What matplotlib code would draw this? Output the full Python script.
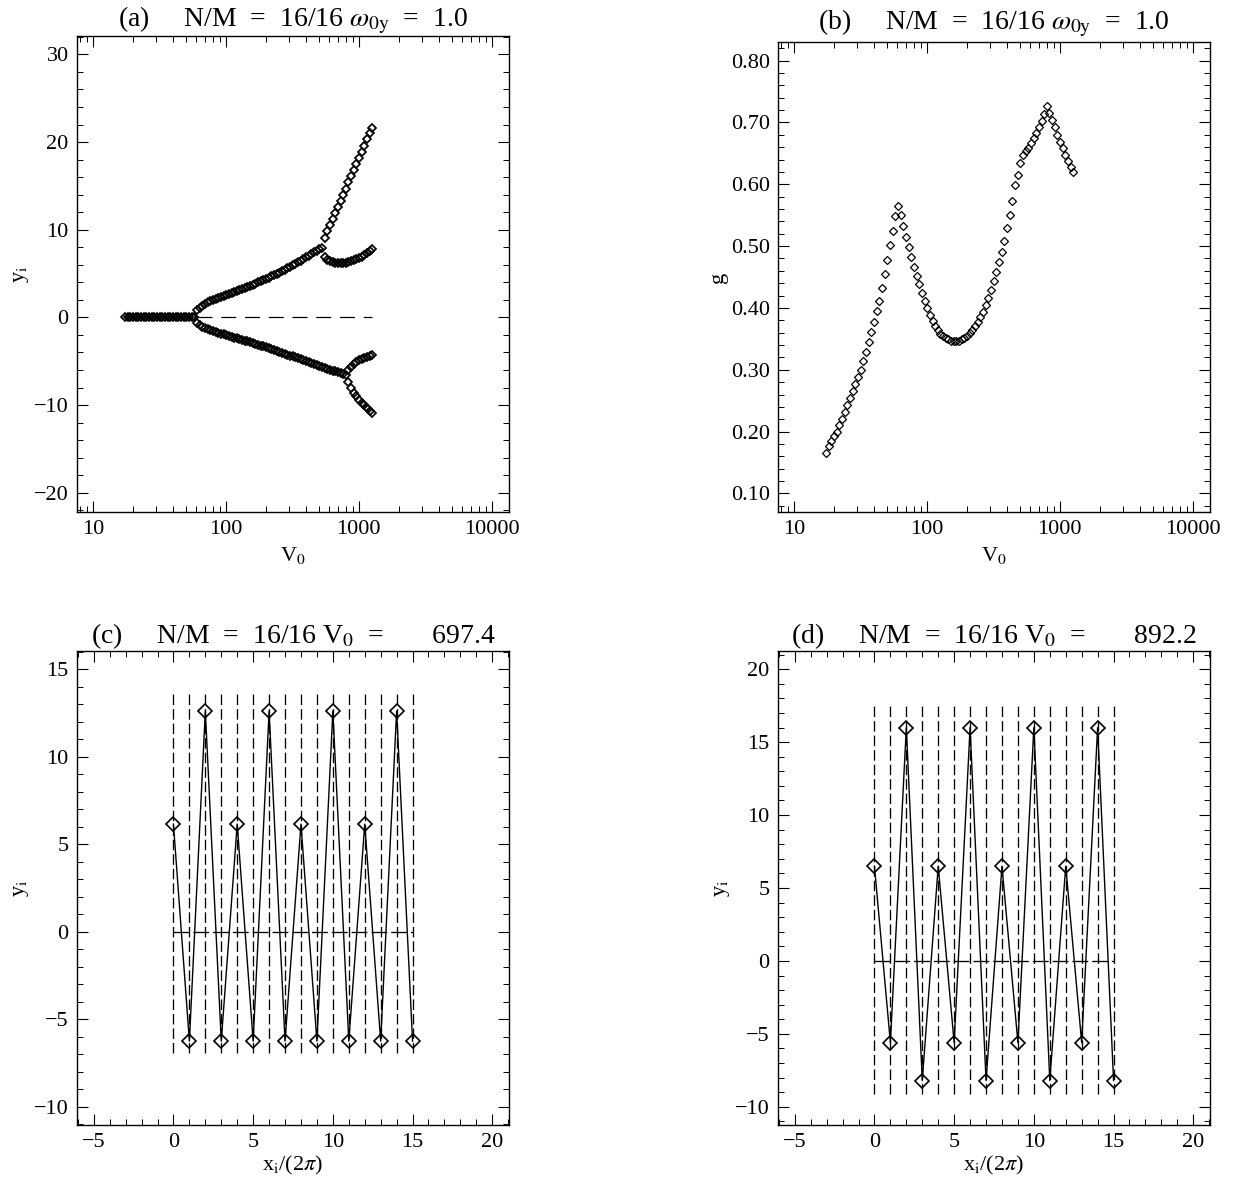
import numpy as np
import matplotlib.pyplot as plt
from matplotlib.ticker import MultipleLocator, LogLocator, NullFormatter, FixedLocator

plt.rcParams['font.family'] = ['Liberation Serif', 'DejaVu Serif']
plt.rcParams['mathtext.fontset'] = 'stix'

# V0 grid shared by panels (a) and (b)
v0 = [17.50, 18.32, 19.19, 20.09, 21.04, 22.03, 23.07, 24.15, 25.29, 26.49,
      27.73, 29.04, 30.41, 31.84, 33.34, 34.91, 36.56, 38.28, 40.09, 41.98,
      43.95, 46.03, 48.19, 50.47, 52.84, 55.34, 57.94, 60.67, 63.53, 66.53,
      69.66, 72.95, 76.38, 79.98, 83.75, 87.70, 91.83, 96.16, 100.7, 105.4,
      110.4, 115.6, 121.1, 126.8, 132.7, 139.0, 145.5, 152.4, 159.6, 167.1,
      175.0, 183.2, 191.9, 200.9, 210.4, 220.3, 230.7, 241.5, 252.9, 264.9,
      277.3, 290.4, 304.1, 318.4, 333.4, 349.1, 365.6, 382.8, 400.9, 419.8,
      439.5, 460.3, 481.9, 504.7, 528.4, 553.4, 579.4, 606.7, 635.3, 665.3,
      696.6, 729.5, 763.8, 799.8, 837.5, 877.0, 918.3, 961.6, 1007, 1054,
      1104, 1156, 1211, 1268]

# panel (b): g(V0)
g = [0.166, 0.176, 0.185, 0.193, 0.200, 0.210, 0.221, 0.232, 0.243, 0.254,
     0.265, 0.277, 0.288, 0.300, 0.314, 0.329, 0.345, 0.361, 0.378, 0.395,
     0.412, 0.432, 0.455, 0.478, 0.502, 0.525, 0.548, 0.565, 0.550, 0.533,
     0.515, 0.498, 0.482, 0.466, 0.452, 0.438, 0.424, 0.411, 0.400, 0.389,
     0.379, 0.371, 0.364, 0.358, 0.354, 0.351, 0.349, 0.347, 0.346, 0.346,
     0.347, 0.349, 0.352, 0.355, 0.359, 0.364, 0.370, 0.377, 0.385, 0.394,
     0.404, 0.416, 0.429, 0.443, 0.458, 0.474, 0.491, 0.509, 0.529, 0.550,
     0.573, 0.598, 0.615, 0.635, 0.648, 0.653, 0.659, 0.666, 0.674, 0.683,
     0.693, 0.703, 0.714, 0.726, 0.716, 0.704, 0.692, 0.680, 0.669, 0.658,
     0.647, 0.637, 0.628, 0.620]

# panel (a): branches of y_i, each one on a slice of the v0 grid
y_flat = [0.0] * 27                      # v0[0:27]
y_upper = [0.8, 1.1, 1.35, 1.55, 1.72, 1.87, 2.0, 2.12, 2.24, 2.36,
           2.47, 2.58, 2.69, 2.80, 2.91, 3.02, 3.13, 3.25, 3.37, 3.49,
           3.61, 3.73, 3.86, 3.99, 4.12, 4.25, 4.39, 4.53, 4.67, 4.82,
           4.97, 5.12, 5.27, 5.43, 5.59, 5.76, 5.93, 6.10, 6.28, 6.46,
           6.65, 6.84, 7.03, 7.23, 7.43, 7.63, 7.80, 7.90]          # v0[27:75]
y_lower = [-0.6, -0.85, -1.05, -1.2, -1.33, -1.45, -1.55, -1.65, -1.75, -1.85,
           -1.94, -2.03, -2.12, -2.21, -2.30, -2.39, -2.48, -2.57, -2.66, -2.75,
           -2.84, -2.93, -3.02, -3.11, -3.21, -3.31, -3.41, -3.51, -3.61, -3.71,
           -3.81, -3.91, -4.02, -4.13, -4.24, -4.35, -4.46, -4.57, -4.68, -4.79,
           -4.90, -5.01, -5.12, -5.23, -5.34, -5.45, -5.56, -5.66, -5.76, -5.86,
           -5.96, -6.06, -6.16, -6.26, -6.36, -6.46, -6.56]         # v0[27:84]
y_top = [9.1, 9.8, 10.5, 11.2, 11.9, 12.6, 13.3, 14.0, 14.7, 15.4,
         16.1, 16.8, 17.5, 18.2, 18.9, 19.6, 20.3, 21.0, 21.6]     # v0[75:]
y_mid = [6.9, 6.6, 6.4, 6.3, 6.25, 6.2, 6.2, 6.22, 6.26, 6.32,
         6.4, 6.5, 6.62, 6.76, 6.92, 7.1, 7.3, 7.55, 7.8]           # v0[75:]
y_low_up = [-6.0, -5.65, -5.35, -5.1, -4.9, -4.75, -4.6, -4.48, -4.38, -4.28]      # v0[84:]
y_low_dn = [-7.4, -8.1, -8.6, -9.0, -9.4, -9.75, -10.05, -10.35, -10.65, -10.9]   # v0[84:]

# panels (c) and (d): particle positions
xi = [0, 1, 2, 3, 4, 5, 6, 7, 8, 9, 10, 11, 12, 13, 14, 15]
yc = [6.15, -6.25, 12.6, -6.25, 6.15, -6.25, 12.6, -6.25,
      6.15, -6.25, 12.6, -6.25, 6.15, -6.25, 12.6, -6.25]
yd = [6.5, -5.6, 16.0, -8.2, 6.5, -5.6, 16.0, -8.2,
      6.5, -5.6, 16.0, -8.2, 6.5, -5.6, 16.0, -8.2]
c_span = (-6.9, 13.8)
d_span = (-9.1, 17.6)

fig = plt.figure(figsize=(12.42, 11.82), dpi=100)
W, H = 1242.0, 1182.0


def box(l, t, w, h):
    return [l / W, 1 - (t + h) / H, w / W, h / H]


def style(ax):
    ax.tick_params(which='both', direction='in', top=True, right=True,
                   labelsize=16, pad=6)
    ax.tick_params(which='major', length=8, width=0.8)
    ax.tick_params(which='minor', length=4, width=0.7)
    for s in ax.spines.values():
        s.set_linewidth(1.0)


def log_axis(ax):
    ax.set_xscale('log')
    ax.set_xlim(7.6, 13500)
    ax.xaxis.set_major_locator(FixedLocator([10, 100, 1000, 10000]))
    ax.set_xticklabels(['10', '100', '1000', '10000'])
    ax.xaxis.set_minor_locator(LogLocator(base=10, subs=range(2, 10)))
    ax.xaxis.set_minor_formatter(NullFormatter())
    ax.set_xlabel('V$_0$', fontsize=16, labelpad=4)


mk_a = dict(marker='D', ms=4.3, mfc='none', mec='black', mew=1.25, ls='none')
mk_b = dict(marker='D', ms=3.9, mfc='none', mec='black', mew=0.9, ls='none')
tfs = 20

# (a)
ax = fig.add_axes(box(77, 36, 432, 476))
log_axis(ax)
ax.plot(v0[0:27], y_flat, **mk_a)
ax.plot(v0[27:75], y_upper, **mk_a)
ax.plot(v0[27:84], y_lower, **mk_a)
ax.plot(v0[75:], y_top, **mk_a)
ax.plot(v0[75:], y_mid, **mk_a)
ax.plot(v0[84:], y_low_up, **mk_a)
ax.plot(v0[84:], y_low_dn, **mk_a)
ax.plot([v0[27], v0[-1]], [0, 0], color='black', lw=0.9, dashes=(12, 7))
ax.set_ylim(-22.2, 32.1)
ax.yaxis.set_major_locator(MultipleLocator(10))
ax.yaxis.set_minor_locator(MultipleLocator(2))
ax.set_ylabel('y$_\\mathrm{i}$', fontsize=16, labelpad=2)
ax.set_title('(a)     N/M  =  16/16 $\\omega_{0\\mathrm{y}}$  =  1.0', fontsize=tfs, pad=7)
style(ax)

# (b)
ax = fig.add_axes(box(778, 42, 432, 470))
log_axis(ax)
ax.plot(v0, g, **mk_b)
ax.set_ylim(0.07, 0.83)
ax.yaxis.set_major_locator(MultipleLocator(0.1))
ax.yaxis.set_minor_locator(MultipleLocator(0.02))
ax.yaxis.set_major_formatter(lambda v, p: '%.2f' % v)
ax.set_ylabel('g', fontsize=16, labelpad=2)
ax.set_title('(b)     N/M  =  16/16 $\\omega_{0\\mathrm{y}}$  =  1.0', fontsize=tfs, pad=9)
style(ax)


def chain(ax, ys, span, ylim):
    for x in xi:
        ax.plot([x, x], span, color='black', lw=0.95, dashes=(8, 3))
    ax.plot([xi[0], xi[-1]], [0, 0], color='black', lw=0.95, dashes=(12, 3))
    ax.plot(xi, ys, color='black', lw=1.0, marker='D', ms=7.0,
            mfc='none', mec='black', mew=1.2)
    ax.set_xlim(-6.05, 21.05)
    ax.set_ylim(*ylim)
    ax.xaxis.set_major_locator(MultipleLocator(5))
    ax.xaxis.set_minor_locator(MultipleLocator(1))
    ax.yaxis.set_major_locator(MultipleLocator(5))
    ax.yaxis.set_minor_locator(MultipleLocator(1))
    ax.set_xlabel('x$_\\mathrm{i}$/(2$\\pi$)', fontsize=16, labelpad=1)
    ax.set_ylabel('y$_\\mathrm{i}$', fontsize=16, labelpad=2)
    style(ax)


# (c)
ax = fig.add_axes(box(77, 651, 432, 474))
chain(ax, yc, c_span, (-11.04, 16.04))
ax.set_title('(c)     N/M  =  16/16 V$_0$  =       697.4', fontsize=tfs, pad=6)

# (d)
ax = fig.add_axes(box(778, 651, 432, 474))
chain(ax, yd, d_span, (-11.25, 21.25))
ax.set_title('(d)     N/M  =  16/16 V$_0$  =       892.2', fontsize=tfs, pad=6)

fig.savefig('out.png', dpi=100)
